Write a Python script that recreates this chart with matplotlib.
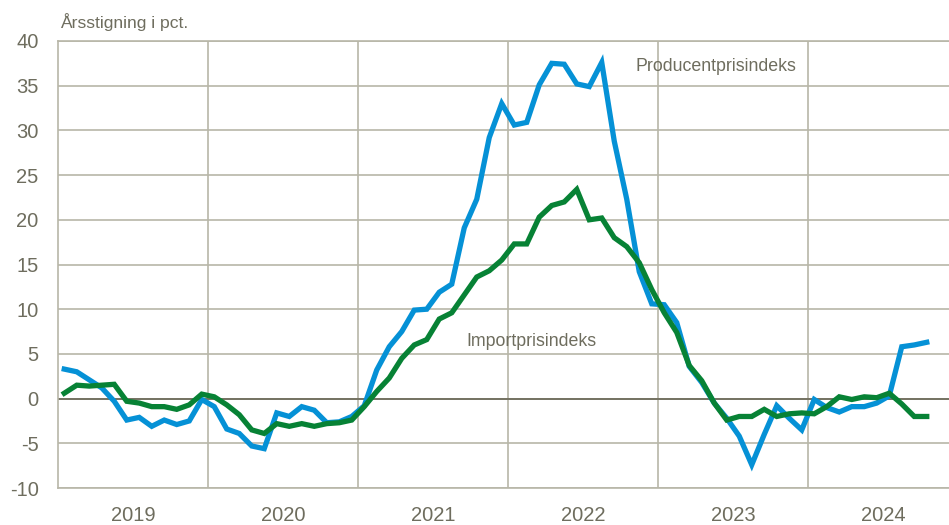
import matplotlib.pyplot as plt
import numpy as np

# Monthly year-on-year change, Jan 2019 - Oct 2024
years = ['2019', '2020', '2021', '2022', '2023', '2024']
producer = [3.3, 3.0, 2.1, 1.2, -0.3, -2.4, -2.1, -3.1, -2.4, -2.9, -2.5, -0.1,
            -0.9, -3.4, -3.9, -5.3, -5.6, -1.6, -2.0, -0.9, -1.3, -2.7, -2.6, -2.0,
            -0.8, 3.2, 5.8, 7.5, 9.9, 10.0, 11.9, 12.8, 19.1, 22.3, 29.2, 33.0,
            30.6, 30.9, 35.1, 37.5, 37.4, 35.2, 34.9, 37.6, 28.8, 22.3, 14.2, 10.6,
            10.5, 8.5, 3.6, 1.8, -0.5, -2.2, -4.2, -7.4, -4.0, -0.8, -2.2, -3.5,
            -0.1, -1.0, -1.5, -0.9, -0.9, -0.5, 0.3, 5.8, 6.0, 6.3]
importp = [0.6, 1.5, 1.4, 1.5, 1.6, -0.3, -0.5, -0.9, -0.9, -1.2, -0.7, 0.5,
           0.2, -0.7, -1.8, -3.5, -3.9, -2.8, -3.1, -2.8, -3.1, -2.8, -2.7, -2.4,
           -0.9, 0.8, 2.3, 4.5, 6.0, 6.6, 8.9, 9.6, 11.6, 13.6, 14.3, 15.5,
           17.3, 17.3, 20.3, 21.6, 22.0, 23.4, 20.0, 20.2, 18.0, 17.0, 15.2, 12.2,
           9.6, 7.4, 3.7, 2.0, -0.5, -2.4, -2.0, -2.0, -1.2, -2.0, -1.7, -1.6,
           -1.7, -0.9, 0.2, -0.1, 0.2, 0.1, 0.6, -0.6, -2.0, -2.0]

plt.rcParams['font.family'] = ['Liberation Sans', 'DejaVu Sans']
plt.rcParams['axes.unicode_minus'] = False

grid_c = '#b8b6a8'
text_c = '#6e6d5e'
blue = '#0591d6'
green = '#078235'

fig = plt.figure(figsize=(9.49, 5.25), dpi=100)
ax = fig.add_axes([58/949, 37/525, 900/949, 447/525])

x = np.arange(len(producer)) + 0.5
ax.plot(x, producer, color=blue, lw=3.8, solid_joinstyle='miter', zorder=3)
ax.plot(x, importp, color=green, lw=3.8, solid_joinstyle='miter', zorder=4)

ax.set_xlim(0, 72)
ax.set_ylim(-10, 40)
ax.set_yticks(range(-10, 41, 5))
ax.set_xticks([12 * k + 6 for k in range(len(years))])
ax.set_xticklabels(years)
ax.set_xticks([12 * k for k in range(1, 6)], minor=True)
ax.grid(axis='y', which='major', color=grid_c, lw=1.2, zorder=1)
ax.grid(axis='x', which='minor', color=grid_c, lw=1.2, zorder=1)
ax.axhline(0, color='#747262', lw=1.4, zorder=2)
ax.tick_params(which='both', length=0, labelsize=14.5, colors=text_c)
ax.tick_params(axis='x', pad=13)
ax.tick_params(axis='y', pad=14)
for s in ['left', 'bottom', 'top']:
    ax.spines[s].set_color(grid_c)
    ax.spines[s].set_linewidth(1.2)
ax.spines['right'].set_visible(False)

fig.text(60/949, 1 - 22/525, 'Årsstigning i pct.', fontsize=12.6, color=text_c,
         va='center', ha='left')
ax.text(52.6, 37.2, 'Producentprisindeks', fontsize=12.8, color=text_c, ha='center', va='center')
ax.text(37.9, 6.4, 'Importprisindeks', fontsize=12.8, color=text_c, ha='center', va='center')

fig.savefig('out.png', dpi=100)
